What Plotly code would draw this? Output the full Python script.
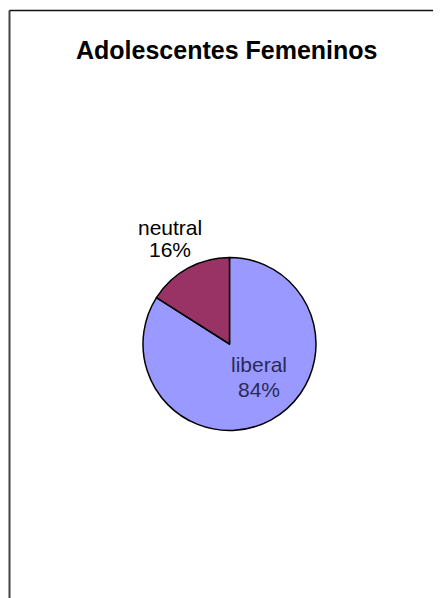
import plotly.graph_objects as go

categories = ["liberal", "neutral"]
values = [84, 16]
colors = ["#9999FF", "#993366"]
title_text = "Adolescentes Femeninos"

# page body has an 8px margin; figure sized to fill the rest of the window
OFF = 8
W, H = 441 - OFF, 598 - OFF


def px(x):
    return (x - OFF) / W


def py(y):
    return 1 - (y - OFF) / H


fig = go.Figure(go.Pie(
    labels=categories,
    values=values,
    sort=False,
    direction="clockwise",
    rotation=0,
    marker=dict(colors=colors, line=dict(color="#000000", width=1.5)),
    textinfo="none",
    hoverinfo="label+percent",
    showlegend=False,
    domain=dict(x=[px(143), px(316)], y=[py(430.5), py(257.5)]),
))

total = sum(values)
pct = [round(v * 100 / total) for v in values]

FONT = "Liberation Sans, Arial, sans-serif"
# label line centres (reference pixels)
label_pos = {"liberal": (259, 364, 389, "#2a2a5a"), "neutral": (170, 227, 250, "#000000")}
for cat, p in zip(categories, pct):
    x, y1, y2, c = label_pos[cat]
    for txt, yy in ((cat, y1), (f"{p}%", y2)):
        fig.add_annotation(
            x=px(x), y=py(yy), xref="paper", yref="paper",
            text=txt, showarrow=False,
            font=dict(family=FONT, size=21, color=c),
            xanchor="center", yanchor="middle",
        )

fig.add_annotation(
    x=px(226), y=py(50), xref="paper", yref="paper",
    text=f"<b>{title_text}</b>", showarrow=False,
    font=dict(family=FONT, size=25, color="#000000"),
    xanchor="center", yanchor="middle",
)

# chart frame (left and top edges visible)
fig.add_shape(type="line", xref="paper", yref="paper",
              x0=px(9.5), x1=px(9.5), y0=-0.05, y1=py(10.5),
              line=dict(color="#444444", width=2))
fig.add_shape(type="line", xref="paper", yref="paper",
              x0=px(9.5), x1=1.05, y0=py(10.5), y1=py(10.5),
              line=dict(color="#111111", width=1.5))

fig.update_layout(
    width=W, height=H,
    margin=dict(l=0, r=0, t=0, b=0),
    paper_bgcolor="#FFFFFF",
    plot_bgcolor="#FFFFFF",
)

fig.write_html("out.html")
